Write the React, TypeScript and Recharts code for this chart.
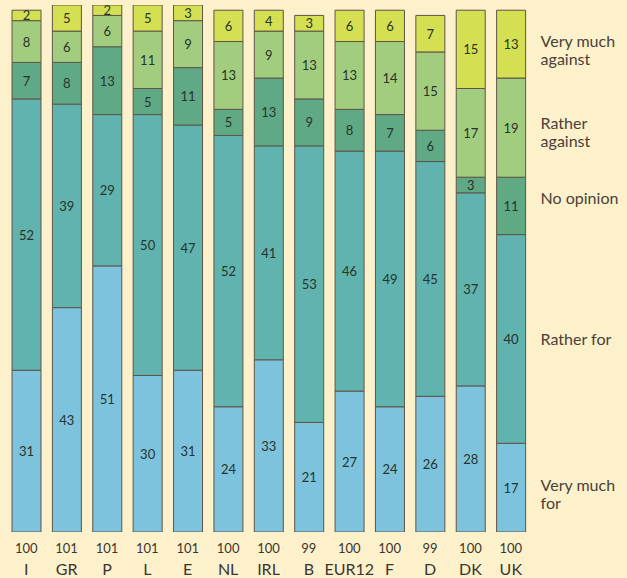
import { Bar, BarChart, LabelList, XAxis, YAxis } from 'recharts';

const countries = ['I', 'GR', 'P', 'L', 'E', 'NL', 'IRL', 'B', 'EUR12', 'F', 'D', 'DK', 'UK'];
const totals = [100, 101, 101, 101, 101, 100, 100, 99, 100, 100, 99, 100, 100];

const veryMuchFor = [31, 43, 51, 30, 31, 24, 33, 21, 27, 24, 26, 28, 17];
const ratherFor = [52, 39, 29, 50, 47, 52, 41, 53, 46, 49, 45, 37, 40];
const noOpinion = [7, 8, 13, 5, 11, 5, 13, 9, 8, 7, 6, 3, 11];
const ratherAgainst = [8, 6, 6, 11, 9, 13, 9, 13, 13, 14, 15, 17, 19];
const veryMuchAgainst = [2, 5, 2, 5, 3, 6, 4, 3, 6, 6, 7, 15, 13];

const data = countries.map((name, i) => ({
  name,
  vmf: veryMuchFor[i],
  rf: ratherFor[i],
  no: noOpinion[i],
  ra: ratherAgainst[i],
  vma: veryMuchAgainst[i],
}));

const series = [
  { key: 'vmf', label: ['Very much', 'for'], fill: '#7dc3de', dy: 6 },
  { key: 'rf', label: ['Rather for'], fill: '#60b3ae', dy: 0 },
  { key: 'no', label: ['No opinion'], fill: '#5fa985', dy: -8 },
  { key: 'ra', label: ['Rather', 'against'], fill: '#a2cd7e', dy: 4 },
  { key: 'vma', label: ['Very much', 'against'], fill: '#d5df52', dy: 5 },
];

const FONT = 'Lato, "Open Sans", sans-serif';

const makeLabel = (s: (typeof series)[number]) => (props: any) => {
  const { x, y, width, height, value, index } = props;
  const cx = x + width / 2;
  const cy = y + height / 2;
  return (
    <g>
      <text x={cx} y={cy} textAnchor="middle" dominantBaseline="central" fontSize={13} fill="#26342a" fontFamily={FONT}>
        {value}
      </text>
      {index === countries.length - 1 &&
        s.label.map((line, li) => (
          <text
            key={line}
            x={x + width + 15}
            y={cy + s.dy + (li - (s.label.length - 1) / 2) * 18}
            dominantBaseline="central"
            fontSize={16}
            fill="#4a4038"
            fontFamily={FONT}
          >
            {line}
          </text>
        ))}
    </g>
  );
};

const Tick = (props: any) => {
  const { x, y, payload, index } = props;
  return (
    <g fontFamily={FONT}>
      <text x={x} y={y + 19} textAnchor="middle" fontSize={13} fill="#3a3530">
        {totals[index]}
      </text>
      <text x={x} y={y + 41} textAnchor="middle" fontSize={16} fill="#3a3530">
        {payload.value}
      </text>
    </g>
  );
};

export default function App() {
  return (
    <div style={{ position: 'absolute', left: 0, top: 0, background: '#fdf1cb', width: 627, height: 578 }}>
      <BarChart
        width={627}
        height={578}
        data={data}
        margin={{ top: 5, right: 96, left: 6, bottom: 0 }}
        barSize={29}
      >
        <XAxis
          dataKey="name"
          axisLine={false}
          tickLine={false}
          tickSize={0}
          height={46}
          interval={0}
          tick={<Tick />}
        />
        <YAxis hide domain={[0, 101]} allowDataOverflow />
        {series.map((s) => (
          <Bar
            key={s.key}
            dataKey={s.key}
            stackId="a"
            fill={s.fill}
            stroke="#5e5548"
            strokeWidth={1}
            isAnimationActive={false}
          >
            <LabelList dataKey={s.key} content={makeLabel(s)} />
          </Bar>
        ))}
      </BarChart>
    </div>
  );
}
